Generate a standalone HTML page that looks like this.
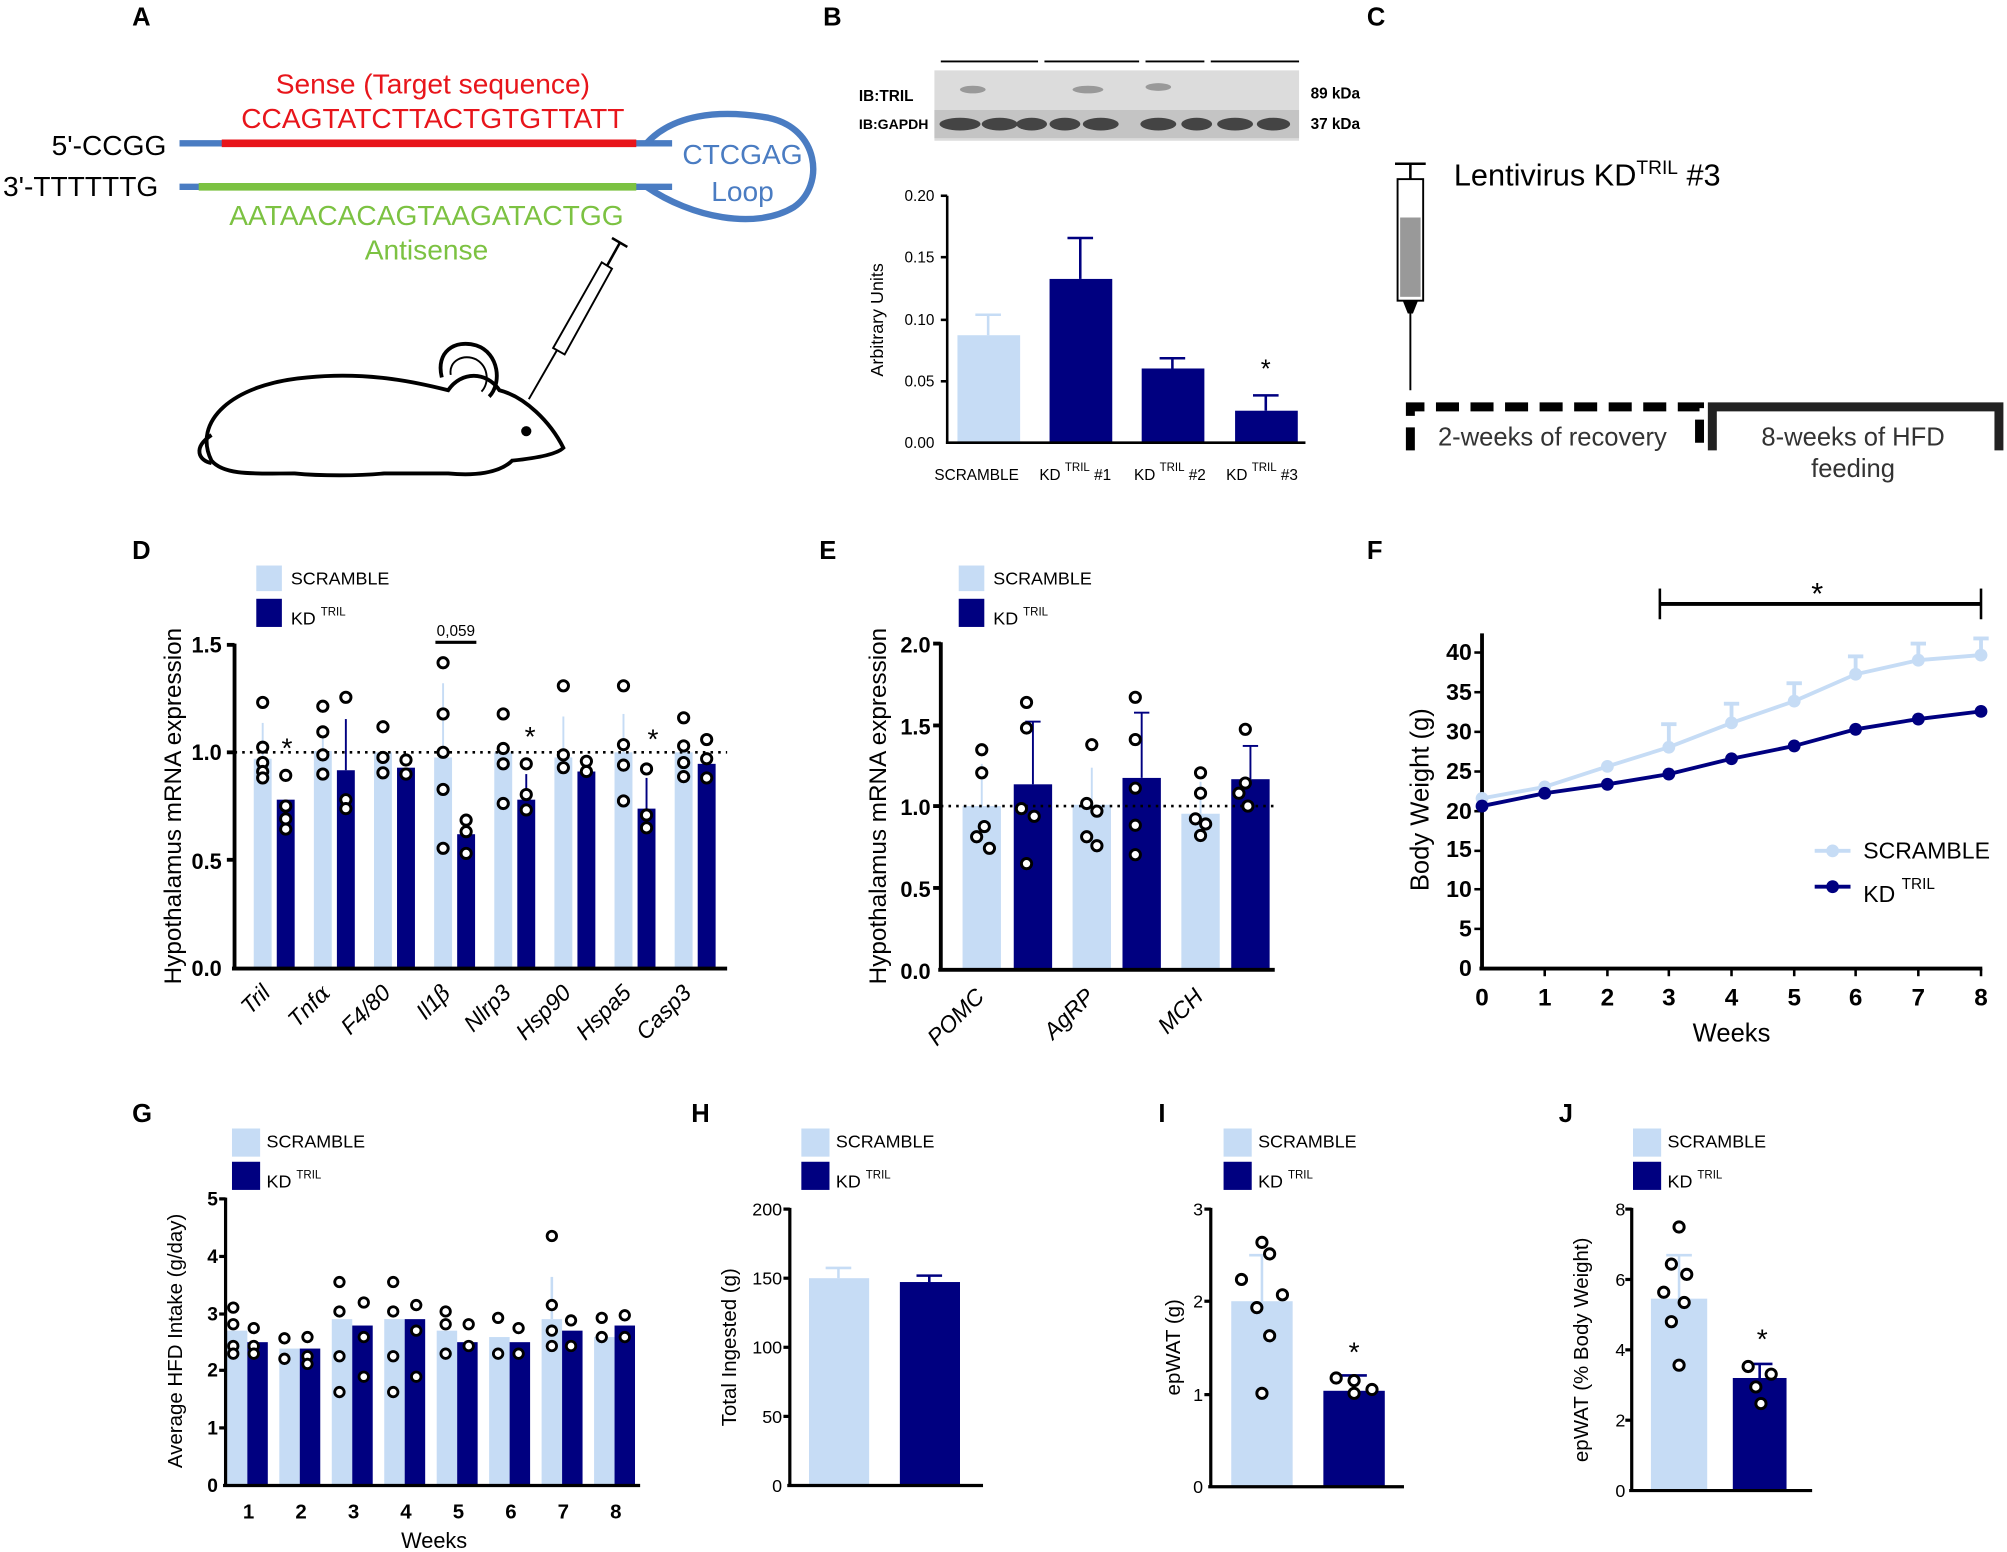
<!DOCTYPE html>
<html><head><meta charset="utf-8"><style>
html,body{margin:0;padding:0;background:#fff;}
svg{display:block;font-family:"Liberation Sans",Arial,sans-serif;}
</style></head><body>
<svg width="2007" height="1552" viewBox="0 0 1568 1213" xmlns="http://www.w3.org/2000/svg">
<rect width="1568" height="1213" fill="#fff"/>
<g font-size="20" font-weight="bold">
<text x="103" y="20">A</text><text x="643" y="20">B</text><text x="1068" y="20">C</text>
<text x="103" y="437">D</text><text x="640" y="437">E</text><text x="1068" y="437">F</text>
<text x="103" y="877">G</text><text x="540" y="877">H</text><text x="905" y="877">I</text><text x="1218" y="877">J</text>
</g>
<!-- Panel A -->
<text x="338" y="73" font-size="22" fill="#e8151b" text-anchor="middle">Sense (Target sequence)</text>
<text x="338" y="100" font-size="22" fill="#e8151b" text-anchor="middle">CCAGTATCTTACTGTGTTATT</text>
<text x="40" y="121" font-size="22">5'-CCGG</text>
<text x="2" y="153" font-size="22">3'-TTTTTTG</text>
<line x1="140" y1="112" x2="525" y2="112" stroke="#4a7cc2" stroke-width="5"/>
<line x1="173" y1="112" x2="497" y2="112" stroke="#e8151b" stroke-width="6"/>
<line x1="140" y1="146" x2="525" y2="146" stroke="#4a7cc2" stroke-width="5"/>
<line x1="155" y1="146" x2="497" y2="146" stroke="#7cc242" stroke-width="6"/>
<path d="M505 112 C525 90 560 85 600 92 C640 100 645 145 620 162 C590 180 540 170 505 146" fill="none" stroke="#4a7cc2" stroke-width="5"/>
<text x="580" y="128" font-size="22" fill="#4a7cc2" text-anchor="middle">CTCGAG</text>
<text x="580" y="157" font-size="22" fill="#4a7cc2" text-anchor="middle">Loop</text>
<text x="333" y="176" font-size="22" fill="#7cc242" text-anchor="middle">AATAACACAGTAAGATACTGG</text>
<text x="333" y="203" font-size="22" fill="#7cc242" text-anchor="middle">Antisense</text>
<path d="M165 360 C150 330 180 300 240 295 C290 290 330 300 350 305 C360 290 380 290 390 305 C410 310 430 330 440 350 C435 355 420 358 400 360 C390 370 370 372 350 370 L300 370 C280 372 250 372 230 370 C200 370 175 372 165 360 Z" fill="none" stroke="#000" stroke-width="3"/>
<path d="M345 295 C340 275 355 265 372 270 C390 276 392 300 382 310" fill="none" stroke="#000" stroke-width="3"/>
<path d="M352 293 C350 282 362 276 372 281 C382 287 382 300 376 306" fill="none" stroke="#000" stroke-width="1.5"/>
<circle cx="411" cy="337" r="4" fill="#000"/>
<path d="M165 340 C150 350 155 360 165 362" fill="none" stroke="#000" stroke-width="3"/>
<line x1="413" y1="312" x2="436" y2="272" stroke="#000" stroke-width="1.5"/>
<path d="M432 272 L470 205 L478 210 L441 277 Z" fill="#fff" stroke="#000" stroke-width="1.5"/>
<line x1="474" y1="208" x2="484" y2="190" stroke="#000" stroke-width="2"/>
<line x1="478" y1="186" x2="490" y2="193" stroke="#000" stroke-width="2"/>
<!-- Panel B -->
<g stroke="#000" stroke-width="1.5"><line x1="735" y1="48" x2="811" y2="48"/><line x1="816" y1="48" x2="890" y2="48"/><line x1="895" y1="48" x2="941" y2="48"/><line x1="946" y1="48" x2="1015" y2="48"/></g>
<rect x="730" y="55" width="285" height="55" fill="#dcdcdc"/>
<rect x="730" y="86" width="285" height="22" fill="#c4c4c4"/>
<g fill="#444"><ellipse cx="750" cy="97" rx="16" ry="5"/><ellipse cx="781" cy="97" rx="14" ry="5"/><ellipse cx="806" cy="97" rx="12" ry="5"/><ellipse cx="832" cy="97" rx="12" ry="5"/><ellipse cx="860" cy="97" rx="14" ry="5"/><ellipse cx="905" cy="97" rx="14" ry="5"/><ellipse cx="935" cy="97" rx="12" ry="5"/><ellipse cx="965" cy="97" rx="14" ry="5"/><ellipse cx="995" cy="97" rx="13" ry="5"/></g>
<g fill="#999"><ellipse cx="760" cy="70" rx="10" ry="3"/><ellipse cx="850" cy="70" rx="12" ry="3"/><ellipse cx="905" cy="68" rx="10" ry="3"/></g>
<text x="671" y="79" font-size="12" font-weight="bold">IB:TRIL</text>
<text x="671" y="101" font-size="11" font-weight="bold">IB:GAPDH</text>
<text x="1024" y="77" font-size="12" font-weight="bold">89 kDa</text>
<text x="1024" y="101" font-size="12" font-weight="bold">37 kDa</text>
<g font-size="12" text-anchor="end">
<text x="730" y="350">0.00</text><text x="730" y="302">0.05</text><text x="730" y="254">0.10</text><text x="730" y="205">0.15</text><text x="730" y="157">0.20</text></g>
<text transform="translate(690 250) rotate(-90)" font-size="14" text-anchor="middle">Arbitrary Units</text>
<rect x="748" y="262" width="49" height="84" fill="#c6dcf5"/>
<line x1="772" y1="262" x2="772" y2="246" stroke="#c6dcf5" stroke-width="2"/><line x1="762" y1="246" x2="782" y2="246" stroke="#c6dcf5" stroke-width="2"/>
<rect x="820" y="218" width="49" height="128" fill="#000080"/>
<line x1="844" y1="218" x2="844" y2="186" stroke="#000080" stroke-width="2"/><line x1="834" y1="186" x2="854" y2="186" stroke="#000080" stroke-width="2"/>
<rect x="892" y="288" width="49" height="58" fill="#000080"/>
<line x1="916" y1="288" x2="916" y2="280" stroke="#000080" stroke-width="2"/><line x1="906" y1="280" x2="926" y2="280" stroke="#000080" stroke-width="2"/>
<rect x="965" y="321" width="49" height="25" fill="#000080"/>
<line x1="989" y1="321" x2="989" y2="309" stroke="#000080" stroke-width="2"/><line x1="979" y1="309" x2="999" y2="309" stroke="#000080" stroke-width="2"/>
<text x="989" y="295" font-size="20" text-anchor="middle">*</text>
<g stroke="#000" stroke-width="2"><line x1="740" y1="153" x2="740" y2="347"/><line x1="739" y1="346" x2="1020" y2="346"/>
<line x1="735" y1="153" x2="740" y2="153"/><line x1="735" y1="201" x2="740" y2="201"/><line x1="735" y1="250" x2="740" y2="250"/><line x1="735" y1="298" x2="740" y2="298"/></g>
<g font-size="12"><text x="730" y="375">SCRAMBLE</text><text x="812" y="375">KD <tspan font-size="9" dy="-7">TRIL</tspan><tspan dy="7"> #1</tspan></text>
<text x="886" y="375">KD <tspan font-size="9" dy="-7">TRIL</tspan><tspan dy="7"> #2</tspan></text><text x="958" y="375">KD <tspan font-size="9" dy="-7">TRIL</tspan><tspan dy="7"> #3</tspan></text></g>
<!-- Panel C -->
<rect x="1092" y="140" width="20" height="95" fill="#fff" stroke="#000" stroke-width="1.5"/>
<rect x="1094" y="170" width="16" height="62" fill="#999"/>
<line x1="1102" y1="128" x2="1102" y2="140" stroke="#000" stroke-width="2"/><line x1="1090" y1="128" x2="1114" y2="128" stroke="#000" stroke-width="2"/>
<path d="M1096 235 L1108 235 L1104 245 L1100 245 Z" fill="#000"/>
<line x1="1102" y1="245" x2="1102" y2="305" stroke="#000" stroke-width="1.5"/>
<text x="1136" y="145" font-size="24">Lentivirus KD<tspan font-size="15" dy="-9">TRIL</tspan><tspan dy="9"> #3</tspan></text>
<path d="M1102 352 L1102 318 L1328 318 L1328 352" fill="none" stroke="#000" stroke-width="7" stroke-dasharray="18 9"/>
<path d="M1338 352 L1338 318 L1562 318 L1562 352" fill="none" stroke="#222" stroke-width="7"/>
<text x="1213" y="348" font-size="20" text-anchor="middle" fill="#333">2-weeks of recovery</text>
<text x="1448" y="348" font-size="20" text-anchor="middle" fill="#333">8-weeks of HFD</text>
<text x="1448" y="373" font-size="20" text-anchor="middle" fill="#333">feeding</text>
<!-- Panel D -->
<rect x="200" y="442" width="20" height="20" fill="#c6dcf5"/><text x="227" y="457" font-size="14">SCRAMBLE</text>
<rect x="200" y="468" width="20" height="22" fill="#000080"/><text x="227" y="488" font-size="14">KD <tspan font-size="9" dy="-7">TRIL</tspan></text>
<text transform="translate(141 630) rotate(-90)" font-size="19" text-anchor="middle">Hypothalamus mRNA expression</text>
<g font-size="17" font-weight="bold" text-anchor="end"><text x="173" y="763">0.0</text><text x="173" y="679">0.5</text><text x="173" y="594">1.0</text><text x="173" y="510">1.5</text></g>
<g fill="#c6dcf5">
<rect x="198" y="593" width="14" height="164"/><rect x="245" y="587" width="14" height="170"/><rect x="292" y="588" width="14" height="169"/><rect x="339" y="592" width="14" height="165"/><rect x="386" y="588" width="14" height="169"/><rect x="433" y="592" width="14" height="165"/><rect x="480" y="588" width="14" height="169"/><rect x="527" y="588" width="14" height="169"/></g>
<g fill="#000080">
<rect x="216" y="625" width="14" height="132"/><rect x="263" y="602" width="14" height="155"/><rect x="310" y="600" width="14" height="157"/><rect x="357" y="652" width="14" height="105"/><rect x="404" y="625" width="14" height="132"/><rect x="451" y="603" width="14" height="154"/><rect x="498" y="632" width="14" height="125"/><rect x="545" y="597" width="14" height="160"/></g>
<g stroke="#c6dcf5" stroke-width="1.5"><line x1="205" y1="593" x2="205" y2="565"/><line x1="252" y1="587" x2="252" y2="567"/><line x1="346" y1="592" x2="346" y2="534"/><line x1="440" y1="592" x2="440" y2="560"/><line x1="487" y1="588" x2="487" y2="558"/></g>
<g stroke="#000080" stroke-width="1.5"><line x1="270" y1="602" x2="270" y2="562"/><line x1="411" y1="625" x2="411" y2="605"/><line x1="505" y1="632" x2="505" y2="608"/></g>
<line x1="183" y1="588" x2="568" y2="588" stroke="#000" stroke-width="2" stroke-dasharray="2 4"/>
<g fill="#fff" stroke="#000" stroke-width="2.3">
<circle cx="205" cy="549" r="4"/><circle cx="205" cy="584" r="4"/><circle cx="205" cy="596" r="4"/><circle cx="205" cy="603" r="4"/><circle cx="205" cy="608" r="4"/>
<circle cx="223" cy="606" r="4"/><circle cx="223" cy="630" r="4"/><circle cx="223" cy="640" r="4"/><circle cx="223" cy="648" r="4"/>
<circle cx="252" cy="552" r="4"/><circle cx="252" cy="572" r="4"/><circle cx="252" cy="590" r="4"/><circle cx="252" cy="605" r="4"/>
<circle cx="270" cy="545" r="4"/><circle cx="270" cy="625" r="4"/><circle cx="270" cy="632" r="4"/>
<circle cx="299" cy="568" r="4"/><circle cx="299" cy="592" r="4"/><circle cx="299" cy="604" r="4"/>
<circle cx="317" cy="594" r="4"/><circle cx="317" cy="605" r="4"/>
<circle cx="346" cy="518" r="4"/><circle cx="346" cy="558" r="4"/><circle cx="346" cy="588" r="4"/><circle cx="346" cy="617" r="4"/><circle cx="346" cy="663" r="4"/>
<circle cx="364" cy="641" r="4"/><circle cx="364" cy="650" r="4"/><circle cx="364" cy="667" r="4"/>
<circle cx="393" cy="558" r="4"/><circle cx="393" cy="585" r="4"/><circle cx="393" cy="597" r="4"/><circle cx="393" cy="628" r="4"/>
<circle cx="411" cy="597" r="4"/><circle cx="411" cy="621" r="4"/><circle cx="411" cy="633" r="4"/>
<circle cx="440" cy="536" r="4"/><circle cx="440" cy="590" r="4"/><circle cx="440" cy="600" r="4"/>
<circle cx="458" cy="595" r="4"/><circle cx="458" cy="603" r="4"/>
<circle cx="487" cy="536" r="4"/><circle cx="487" cy="582" r="4"/><circle cx="487" cy="598" r="4"/><circle cx="487" cy="626" r="4"/>
<circle cx="505" cy="601" r="4"/><circle cx="505" cy="637" r="4"/><circle cx="505" cy="647" r="4"/>
<circle cx="534" cy="561" r="4"/><circle cx="534" cy="583" r="4"/><circle cx="534" cy="596" r="4"/><circle cx="534" cy="607" r="4"/>
<circle cx="552" cy="578" r="4"/><circle cx="552" cy="593" r="4"/><circle cx="552" cy="608" r="4"/></g>
<g font-size="22" text-anchor="middle"><text x="224" y="592">*</text><text x="414" y="583">*</text><text x="510" y="585">*</text></g>
<line x1="340" y1="502" x2="372" y2="502" stroke="#000" stroke-width="2.5"/><text x="356" y="497" font-size="12" text-anchor="middle">0,059</text>
<g stroke="#000" stroke-width="3"><line x1="183" y1="503" x2="183" y2="758"/><line x1="181" y1="757" x2="568" y2="757"/>
<line x1="177" y1="504" x2="183" y2="504"/><line x1="177" y1="588" x2="183" y2="588"/><line x1="177" y1="672" x2="183" y2="672"/></g>
<g font-size="18" font-style="italic" text-anchor="end">
<text transform="translate(212 777) rotate(-45)">Tril</text><text transform="translate(259 777) rotate(-45)">Tnf<tspan font-family="DejaVu Serif">α</tspan></text>
<text transform="translate(306 777) rotate(-45)">F4/80</text><text transform="translate(353 777) rotate(-45)">Il1<tspan font-family="DejaVu Serif">β</tspan></text>
<text transform="translate(400 777) rotate(-45)">Nlrp3</text><text transform="translate(447 777) rotate(-45)">Hsp90</text>
<text transform="translate(494 777) rotate(-45)">Hspa5</text><text transform="translate(541 777) rotate(-45)">Casp3</text></g>
<!-- Panel E -->
<rect x="749" y="442" width="20" height="20" fill="#c6dcf5"/><text x="776" y="457" font-size="14">SCRAMBLE</text>
<rect x="749" y="468" width="20" height="22" fill="#000080"/><text x="776" y="488" font-size="14">KD <tspan font-size="9" dy="-7">TRIL</tspan></text>
<text transform="translate(692 630) rotate(-90)" font-size="19" text-anchor="middle">Hypothalamus mRNA expression</text>
<g font-size="17" font-weight="bold" text-anchor="end"><text x="727" y="765">0.0</text><text x="727" y="701">0.5</text><text x="727" y="637">1.0</text><text x="727" y="574">1.5</text><text x="727" y="510">2.0</text></g>
<rect x="752" y="630" width="30" height="128" fill="#c6dcf5"/><rect x="792" y="613" width="30" height="145" fill="#000080"/>
<rect x="838" y="629" width="30" height="129" fill="#c6dcf5"/><rect x="877" y="608" width="30" height="150" fill="#000080"/>
<rect x="923" y="636" width="30" height="122" fill="#c6dcf5"/><rect x="962" y="609" width="30" height="149" fill="#000080"/>
<g stroke="#c6dcf5" stroke-width="1.5"><line x1="767" y1="630" x2="767" y2="597"/><line x1="853" y1="629" x2="853" y2="600"/><line x1="938" y1="636" x2="938" y2="611"/></g>
<g stroke="#000080" stroke-width="1.5"><line x1="807" y1="613" x2="807" y2="564"/><line x1="801" y1="564" x2="813" y2="564"/><line x1="892" y1="608" x2="892" y2="557"/><line x1="886" y1="557" x2="898" y2="557"/><line x1="977" y1="609" x2="977" y2="583"/><line x1="971" y1="583" x2="983" y2="583"/></g>
<line x1="735" y1="630" x2="996" y2="630" stroke="#000" stroke-width="2" stroke-dasharray="2 4"/>
<g fill="#fff" stroke="#000" stroke-width="2.3">
<circle cx="767" cy="586" r="4"/><circle cx="767" cy="604" r="4"/><circle cx="769" cy="646" r="4"/><circle cx="763" cy="654" r="4"/><circle cx="773" cy="663" r="4"/>
<circle cx="802" cy="549" r="4"/><circle cx="802" cy="569" r="4"/><circle cx="798" cy="632" r="4"/><circle cx="808" cy="638" r="4"/><circle cx="802" cy="675" r="4"/>
<circle cx="853" cy="582" r="4"/><circle cx="849" cy="628" r="4"/><circle cx="857" cy="634" r="4"/><circle cx="849" cy="654" r="4"/><circle cx="857" cy="661" r="4"/>
<circle cx="887" cy="545" r="4"/><circle cx="887" cy="578" r="4"/><circle cx="887" cy="616" r="4"/><circle cx="887" cy="645" r="4"/><circle cx="887" cy="668" r="4"/>
<circle cx="938" cy="604" r="4"/><circle cx="938" cy="620" r="4"/><circle cx="934" cy="640" r="4"/><circle cx="942" cy="644" r="4"/><circle cx="938" cy="653" r="4"/>
<circle cx="973" cy="570" r="4"/><circle cx="973" cy="612" r="4"/><circle cx="968" cy="620" r="4"/><circle cx="975" cy="630" r="4"/></g>
<g stroke="#000" stroke-width="3"><line x1="735" y1="502" x2="735" y2="759"/><line x1="733" y1="758" x2="996" y2="758"/>
<line x1="729" y1="503" x2="735" y2="503"/><line x1="729" y1="567" x2="735" y2="567"/><line x1="729" y1="630" x2="735" y2="630"/><line x1="729" y1="694" x2="735" y2="694"/></g>
<g font-size="18" font-style="italic" text-anchor="end"><text transform="translate(770 780) rotate(-45)">POMC</text><text transform="translate(856 780) rotate(-45)">AgRP</text><text transform="translate(941 780) rotate(-45)">MCH</text></g>
<!-- Panel F -->
<line x1="1297" y1="472" x2="1548" y2="472" stroke="#000" stroke-width="3"/><line x1="1297" y1="460" x2="1297" y2="484" stroke="#000" stroke-width="2"/><line x1="1548" y1="460" x2="1548" y2="484" stroke="#000" stroke-width="2"/>
<text x="1420" y="472" font-size="24" text-anchor="middle">*</text>
<text transform="translate(1116 625) rotate(-90)" font-size="20" text-anchor="middle">Body  Weight (g)</text>
<g font-size="18" font-weight="bold" text-anchor="end">
<text x="1150" y="763">0</text><text x="1150" y="732">5</text><text x="1150" y="701">10</text><text x="1150" y="670">15</text><text x="1150" y="640">20</text><text x="1150" y="609">25</text><text x="1150" y="578">30</text><text x="1150" y="547">35</text><text x="1150" y="516">40</text></g>
<g stroke="#000" stroke-width="3"><line x1="1158" y1="495" x2="1158" y2="758"/><line x1="1156" y1="757" x2="1549" y2="757"/></g>
<g stroke="#000" stroke-width="2">
<line x1="1152" y1="510" x2="1158" y2="510"/><line x1="1152" y1="541" x2="1158" y2="541"/><line x1="1152" y1="572" x2="1158" y2="572"/><line x1="1152" y1="603" x2="1158" y2="603"/><line x1="1152" y1="634" x2="1158" y2="634"/><line x1="1152" y1="665" x2="1158" y2="665"/><line x1="1152" y1="695" x2="1158" y2="695"/><line x1="1152" y1="726" x2="1158" y2="726"/>
<line x1="1207" y1="757" x2="1207" y2="763"/><line x1="1256" y1="757" x2="1256" y2="763"/><line x1="1304" y1="757" x2="1304" y2="763"/><line x1="1353" y1="757" x2="1353" y2="763"/><line x1="1402" y1="757" x2="1402" y2="763"/><line x1="1450" y1="757" x2="1450" y2="763"/><line x1="1499" y1="757" x2="1499" y2="763"/><line x1="1548" y1="757" x2="1548" y2="763"/></g>
<g font-size="19" font-weight="bold" text-anchor="middle">
<text x="1158" y="786">0</text><text x="1207" y="786">1</text><text x="1256" y="786">2</text><text x="1304" y="786">3</text><text x="1353" y="786">4</text><text x="1402" y="786">5</text><text x="1450" y="786">6</text><text x="1499" y="786">7</text><text x="1548" y="786">8</text></g>
<text x="1353" y="814" font-size="20" text-anchor="middle">Weeks</text>
<g stroke="#c6dcf5" stroke-width="3"><line x1="1304" y1="584" x2="1304" y2="566"/><line x1="1353" y1="564" x2="1353" y2="550"/><line x1="1402" y1="548" x2="1402" y2="534"/><line x1="1450" y1="528" x2="1450" y2="513"/><line x1="1499" y1="518" x2="1499" y2="503"/><line x1="1548" y1="514" x2="1548" y2="499"/>
<line x1="1298" y1="566" x2="1310" y2="566"/><line x1="1347" y1="550" x2="1359" y2="550"/><line x1="1396" y1="534" x2="1408" y2="534"/><line x1="1444" y1="513" x2="1456" y2="513"/><line x1="1493" y1="503" x2="1505" y2="503"/><line x1="1542" y1="499" x2="1554" y2="499"/></g>
<polyline points="1158,624 1207,615 1256,599 1304,584 1353,565 1402,548 1450,527 1499,516 1548,512" fill="none" stroke="#c6dcf5" stroke-width="3"/>
<g fill="#c6dcf5"><circle cx="1158" cy="624" r="5"/><circle cx="1207" cy="615" r="5"/><circle cx="1256" cy="599" r="5"/><circle cx="1304" cy="584" r="5"/><circle cx="1353" cy="565" r="5"/><circle cx="1402" cy="548" r="5"/><circle cx="1450" cy="527" r="5"/><circle cx="1499" cy="516" r="5"/><circle cx="1548" cy="512" r="5"/></g>
<polyline points="1158,630 1207,620 1256,613 1304,605 1353,593 1402,583 1450,570 1499,562 1548,556" fill="none" stroke="#000080" stroke-width="3"/>
<g fill="#000080"><circle cx="1158" cy="630" r="5"/><circle cx="1207" cy="620" r="5"/><circle cx="1256" cy="613" r="5"/><circle cx="1304" cy="605" r="5"/><circle cx="1353" cy="593" r="5"/><circle cx="1402" cy="583" r="5"/><circle cx="1450" cy="570" r="5"/><circle cx="1499" cy="562" r="5"/><circle cx="1548" cy="556" r="5"/></g>
<line x1="1418" y1="665" x2="1446" y2="665" stroke="#c6dcf5" stroke-width="3"/><circle cx="1432" cy="665" r="5" fill="#c6dcf5"/>
<text x="1456" y="671" font-size="18">SCRAMBLE</text>
<line x1="1418" y1="693" x2="1446" y2="693" stroke="#000080" stroke-width="3"/><circle cx="1432" cy="693" r="5" fill="#000080"/>
<text x="1456" y="705" font-size="18">KD <tspan font-size="12" dy="-10">TRIL</tspan></text>
<!-- Panel G -->
<rect x="181" y="882" width="22" height="22" fill="#c6dcf5"/><text x="208" y="897" font-size="14">SCRAMBLE</text>
<rect x="181" y="908" width="22" height="22" fill="#000080"/><text x="208" y="928" font-size="14">KD <tspan font-size="9" dy="-7">TRIL</tspan></text>
<text transform="translate(142 1048) rotate(-90)" font-size="16" text-anchor="middle">Average HFD Intake (g/day)</text>
<g font-size="15" font-weight="bold" text-anchor="end"><text x="170" y="1166">0</text><text x="170" y="1121">1</text><text x="170" y="1076">2</text><text x="170" y="1032">3</text><text x="170" y="987">4</text><text x="170" y="942">5</text></g>
<g fill="#c6dcf5"><rect x="177" y="1040" width="16" height="121"/><rect x="218" y="1054" width="16" height="107"/><rect x="259" y="1031" width="16" height="130"/><rect x="300" y="1031" width="16" height="130"/><rect x="341" y="1040" width="16" height="121"/><rect x="382" y="1045" width="16" height="116"/><rect x="423" y="1031" width="16" height="130"/><rect x="464" y="1045" width="16" height="116"/></g>
<g fill="#000080"><rect x="193" y="1049" width="16" height="112"/><rect x="234" y="1054" width="16" height="107"/><rect x="275" y="1036" width="16" height="125"/><rect x="316" y="1031" width="16" height="130"/><rect x="357" y="1049" width="16" height="112"/><rect x="398" y="1049" width="16" height="112"/><rect x="439" y="1040" width="16" height="121"/><rect x="480" y="1036" width="16" height="125"/></g>
<line x1="431" y1="1031" x2="431" y2="998" stroke="#c6dcf5" stroke-width="2"/>
<g fill="#fff" stroke="#000" stroke-width="2.2">
<circle cx="182" cy="1022" r="3.7"/><circle cx="182" cy="1035" r="3.7"/><circle cx="182" cy="1052" r="3.7"/><circle cx="182" cy="1058" r="3.7"/><circle cx="198" cy="1038" r="3.7"/><circle cx="198" cy="1052" r="3.7"/><circle cx="198" cy="1058" r="3.7"/>
<circle cx="222" cy="1046" r="3.7"/><circle cx="222" cy="1062" r="3.7"/><circle cx="240" cy="1045" r="3.7"/><circle cx="240" cy="1060" r="3.7"/><circle cx="240" cy="1066" r="3.7"/>
<circle cx="265" cy="1002" r="3.7"/><circle cx="265" cy="1025" r="3.7"/><circle cx="265" cy="1060" r="3.7"/><circle cx="265" cy="1088" r="3.7"/><circle cx="284" cy="1018" r="3.7"/><circle cx="284" cy="1045" r="3.7"/><circle cx="284" cy="1076" r="3.7"/>
<circle cx="307" cy="1002" r="3.7"/><circle cx="307" cy="1025" r="3.7"/><circle cx="307" cy="1060" r="3.7"/><circle cx="307" cy="1088" r="3.7"/><circle cx="325" cy="1020" r="3.7"/><circle cx="325" cy="1040" r="3.7"/><circle cx="325" cy="1076" r="3.7"/>
<circle cx="348" cy="1025" r="3.7"/><circle cx="348" cy="1035" r="3.7"/><circle cx="348" cy="1058" r="3.7"/><circle cx="366" cy="1035" r="3.7"/><circle cx="366" cy="1052" r="3.7"/>
<circle cx="389" cy="1030" r="3.7"/><circle cx="389" cy="1058" r="3.7"/><circle cx="405" cy="1038" r="3.7"/><circle cx="405" cy="1058" r="3.7"/>
<circle cx="431" cy="966" r="3.7"/><circle cx="431" cy="1020" r="3.7"/><circle cx="431" cy="1040" r="3.7"/><circle cx="431" cy="1052" r="3.7"/><circle cx="446" cy="1032" r="3.7"/><circle cx="446" cy="1052" r="3.7"/>
<circle cx="470" cy="1030" r="3.7"/><circle cx="470" cy="1045" r="3.7"/><circle cx="488" cy="1028" r="3.7"/><circle cx="488" cy="1045" r="3.7"/></g>
<g stroke="#000" stroke-width="2.5"><line x1="176" y1="936" x2="176" y2="1162"/><line x1="174" y1="1161" x2="500" y2="1161"/>
<line x1="171" y1="937" x2="176" y2="937"/><line x1="171" y1="982" x2="176" y2="982"/><line x1="171" y1="1027" x2="176" y2="1027"/><line x1="171" y1="1071" x2="176" y2="1071"/><line x1="171" y1="1116" x2="176" y2="1116"/></g>
<g font-size="16" font-weight="bold" text-anchor="middle"><text x="194" y="1187">1</text><text x="235" y="1187">2</text><text x="276" y="1187">3</text><text x="317" y="1187">4</text><text x="358" y="1187">5</text><text x="399" y="1187">6</text><text x="440" y="1187">7</text><text x="481" y="1187">8</text></g>
<text x="339" y="1210" font-size="17" text-anchor="middle">Weeks</text>
<!-- Panel H -->
<rect x="626" y="882" width="22" height="22" fill="#c6dcf5"/><text x="653" y="897" font-size="14">SCRAMBLE</text>
<rect x="626" y="908" width="22" height="22" fill="#000080"/><text x="653" y="928" font-size="14">KD <tspan font-size="9" dy="-7">TRIL</tspan></text>
<text transform="translate(575 1053) rotate(-90)" font-size="16" text-anchor="middle">Total Ingested  (g)</text>
<g font-size="14" text-anchor="end"><text x="611" y="1166">0</text><text x="611" y="1112">50</text><text x="611" y="1058">100</text><text x="611" y="1004">150</text><text x="611" y="950">200</text></g>
<rect x="632" y="999" width="47" height="162" fill="#c6dcf5"/><line x1="655" y1="999" x2="655" y2="991" stroke="#c6dcf5" stroke-width="2"/><line x1="645" y1="991" x2="665" y2="991" stroke="#c6dcf5" stroke-width="2"/>
<rect x="703" y="1002" width="47" height="159" fill="#000080"/><line x1="726" y1="1002" x2="726" y2="997" stroke="#000080" stroke-width="2"/><line x1="716" y1="997" x2="736" y2="997" stroke="#000080" stroke-width="2"/>
<g stroke="#000" stroke-width="2.5"><line x1="617" y1="944" x2="617" y2="1162"/><line x1="615" y1="1161" x2="768" y2="1161"/>
<line x1="612" y1="945" x2="617" y2="945"/><line x1="612" y1="999" x2="617" y2="999"/><line x1="612" y1="1053" x2="617" y2="1053"/><line x1="612" y1="1107" x2="617" y2="1107"/></g>
<!-- Panel I -->
<rect x="956" y="882" width="22" height="22" fill="#c6dcf5"/><text x="983" y="897" font-size="14">SCRAMBLE</text>
<rect x="956" y="908" width="22" height="22" fill="#000080"/><text x="983" y="928" font-size="14">KD <tspan font-size="9" dy="-7">TRIL</tspan></text>
<text transform="translate(922 1053) rotate(-90)" font-size="16" text-anchor="middle">epWAT (g)</text>
<g font-size="14" text-anchor="end"><text x="940" y="1167">0</text><text x="940" y="1095">1</text><text x="940" y="1022">2</text><text x="940" y="950">3</text></g>
<rect x="962" y="1017" width="48" height="145" fill="#c6dcf5"/><line x1="986" y1="1017" x2="986" y2="981" stroke="#c6dcf5" stroke-width="2"/><line x1="976" y1="981" x2="996" y2="981" stroke="#c6dcf5" stroke-width="2"/>
<rect x="1034" y="1087" width="48" height="75" fill="#000080"/><line x1="1058" y1="1087" x2="1058" y2="1075" stroke="#000080" stroke-width="2"/><line x1="1048" y1="1075" x2="1068" y2="1075" stroke="#000080" stroke-width="2"/>
<text x="1058" y="1064" font-size="22" text-anchor="middle">*</text>
<g fill="#fff" stroke="#000" stroke-width="2.3"><circle cx="986" cy="971" r="4"/><circle cx="970" cy="1000" r="4"/><circle cx="992" cy="980" r="4"/><circle cx="1002" cy="1012" r="4"/><circle cx="982" cy="1022" r="4"/><circle cx="992" cy="1044" r="4"/><circle cx="986" cy="1089" r="4"/>
<circle cx="1044" cy="1077" r="4"/><circle cx="1058" cy="1089" r="4"/><circle cx="1072" cy="1086" r="4"/><circle cx="1058" cy="1079" r="4"/></g>
<g stroke="#000" stroke-width="2.5"><line x1="946" y1="944" x2="946" y2="1163"/><line x1="944" y1="1162" x2="1097" y2="1162"/>
<line x1="941" y1="945" x2="946" y2="945"/><line x1="941" y1="1017" x2="946" y2="1017"/><line x1="941" y1="1090" x2="946" y2="1090"/></g>
<!-- Panel J -->
<rect x="1276" y="882" width="22" height="22" fill="#c6dcf5"/><text x="1303" y="897" font-size="14">SCRAMBLE</text>
<rect x="1276" y="908" width="22" height="22" fill="#000080"/><text x="1303" y="928" font-size="14">KD <tspan font-size="9" dy="-7">TRIL</tspan></text>
<text transform="translate(1241 1055) rotate(-90)" font-size="16" text-anchor="middle">epWAT (% Body  Weight)</text>
<g font-size="14" text-anchor="end"><text x="1270" y="1170">0</text><text x="1270" y="1115">2</text><text x="1270" y="1060">4</text><text x="1270" y="1005">6</text><text x="1270" y="950">8</text></g>
<rect x="1290" y="1015" width="44" height="150" fill="#c6dcf5"/><line x1="1312" y1="1015" x2="1312" y2="981" stroke="#c6dcf5" stroke-width="2"/><line x1="1302" y1="981" x2="1322" y2="981" stroke="#c6dcf5" stroke-width="2"/>
<rect x="1354" y="1077" width="42" height="88" fill="#000080"/><line x1="1375" y1="1077" x2="1375" y2="1066" stroke="#000080" stroke-width="2"/><line x1="1365" y1="1066" x2="1385" y2="1066" stroke="#000080" stroke-width="2"/>
<text x="1377" y="1054" font-size="22" text-anchor="middle">*</text>
<g fill="#fff" stroke="#000" stroke-width="2.3"><circle cx="1312" cy="959" r="4"/><circle cx="1306" cy="988" r="4"/><circle cx="1318" cy="996" r="4"/><circle cx="1300" cy="1010" r="4"/><circle cx="1316" cy="1018" r="4"/><circle cx="1306" cy="1033" r="4"/><circle cx="1312" cy="1067" r="4"/>
<circle cx="1366" cy="1068" r="4"/><circle cx="1384" cy="1074" r="4"/><circle cx="1372" cy="1084" r="4"/><circle cx="1376" cy="1097" r="4"/></g>
<g stroke="#000" stroke-width="2.5"><line x1="1275" y1="944" x2="1275" y2="1166"/><line x1="1273" y1="1165" x2="1416" y2="1165"/>
<line x1="1270" y1="945" x2="1275" y2="945"/><line x1="1270" y1="1000" x2="1275" y2="1000"/><line x1="1270" y1="1055" x2="1275" y2="1055"/><line x1="1270" y1="1110" x2="1275" y2="1110"/></g>
</svg>
</body></html>
